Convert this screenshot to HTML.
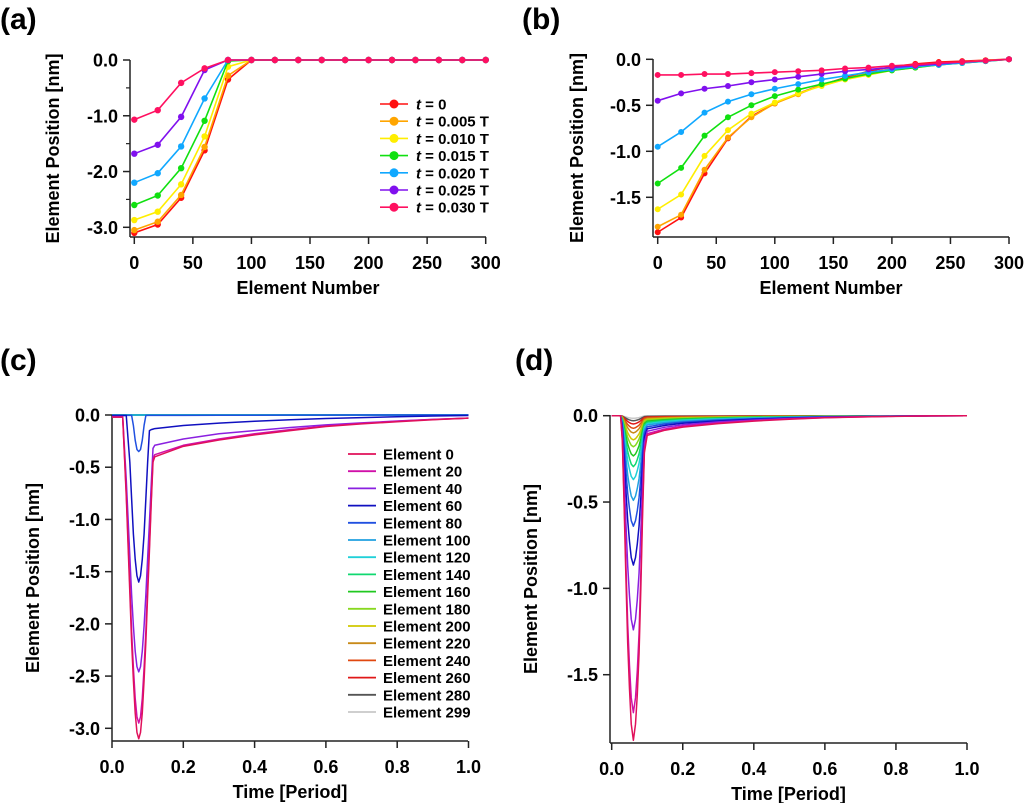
<!DOCTYPE html>
<html><head><meta charset="utf-8"><style>
html,body{margin:0;padding:0;background:#fff;}
svg{display:block;font-family:"Liberation Sans",sans-serif;font-weight:bold;}
</style></head><body>
<svg id="fig" width="1024" height="803" viewBox="0 0 1024 803" xmlns="http://www.w3.org/2000/svg"></svg>
<script>
// ---------- Panel (a) data ----------
const A_ELEMENTS = [0,20,40,60,80,100,120,140,160,180,200,220,240,260,280,300];
const A_LABELS = ["0","0.005 T","0.010 T","0.015 T","0.020 T","0.025 T","0.030 T"];
const A_COLORS = ["#ff1010","#ffa500","#ffee00","#10e010","#10a8ff","#8010ee","#ff1060"];
const A_T0    = [-3.10,-2.95,-2.47,-1.62,-0.35,0,0,0,0,0,0,0,0,0,0,0];
const A_T005  = [-3.05,-2.90,-2.42,-1.56,-0.28,0,0,0,0,0,0,0,0,0,0,0];
const A_T010  = [-2.87,-2.72,-2.23,-1.37,-0.12,0,0,0,0,0,0,0,0,0,0,0];
const A_T015  = [-2.60,-2.43,-1.94,-1.09,-0.02,0,0,0,0,0,0,0,0,0,0,0];
const A_T020  = [-2.20,-2.03,-1.55,-0.69,0,0,0,0,0,0,0,0,0,0,0,0];
const A_T025  = [-1.68,-1.52,-1.02,-0.18,0,0,0,0,0,0,0,0,0,0,0,0];
const A_T030  = [-1.07,-0.90,-0.41,-0.15,0,0,0,0,0,0,0,0,0,0,0,0];
const A_SERIES = [A_T0,A_T005,A_T010,A_T015,A_T020,A_T025,A_T030];
const A_XTICKS = [0,50,100,150,200,250,300];
const A_YTICKS = [0,-1,-2,-3];
const A_YTICK_LABELS = ["0.0","-1.0","-2.0","-3.0"];

// ---------- Panel (b) data ----------
const B_T0   = [-1.88,-1.72,-1.24,-0.86,-0.62,-0.48,-0.37,-0.28,-0.20,-0.13,-0.08,-0.05,-0.03,-0.02,-0.01,0];
const B_T005 = [-1.82,-1.69,-1.20,-0.85,-0.63,-0.48,-0.38,-0.28,-0.21,-0.15,-0.10,-0.07,-0.05,-0.03,-0.01,0];
const B_T010 = [-1.63,-1.47,-1.05,-0.77,-0.59,-0.47,-0.37,-0.29,-0.22,-0.17,-0.12,-0.09,-0.06,-0.04,-0.02,0];
const B_T015 = [-1.35,-1.18,-0.83,-0.63,-0.50,-0.40,-0.33,-0.27,-0.21,-0.16,-0.12,-0.09,-0.06,-0.04,-0.02,0];
const B_T020 = [-0.95,-0.79,-0.58,-0.46,-0.38,-0.32,-0.27,-0.22,-0.18,-0.14,-0.11,-0.08,-0.06,-0.04,-0.02,0];
const B_T025 = [-0.45,-0.37,-0.32,-0.29,-0.25,-0.22,-0.19,-0.16,-0.13,-0.11,-0.09,-0.07,-0.05,-0.03,-0.015,0];
const B_T030 = [-0.17,-0.17,-0.16,-0.16,-0.15,-0.14,-0.13,-0.12,-0.10,-0.09,-0.07,-0.06,-0.04,-0.03,-0.015,0];
const B_SERIES = [B_T0,B_T005,B_T010,B_T015,B_T020,B_T025,B_T030];
const B_YTICKS = [0,-0.5,-1,-1.5];
const B_YTICK_LABELS = ["0.0","-0.5","-1.0","-1.5"];

// ---------- Panel (c) data ----------
const C_NAMES = ["Element 0","Element 20","Element 40","Element 60","Element 80","Element 100","Element 120","Element 140","Element 160","Element 180","Element 200","Element 220","Element 240","Element 260","Element 280","Element 299"];
const C_COLORS = ["#e0105a","#d010a8","#8a20e0","#1010c0","#2050e0","#20a0e0","#20d0d8","#10d870","#20c820","#88d820","#d0c800","#c88a18","#e04810","#e01818","#555555","#c8c8c8"];
const C_T = [0,0.03,0.04,0.05,0.055,0.06,0.065,0.07,0.075,0.08,0.085,0.09,0.095,0.1,0.105,0.11,0.115,0.12,0.2,0.3,0.4,0.5,0.6,0.7,0.8,0.9,1.0];
const C_E0  = [-0.02,-0.02,-0.78,-1.70,-2.17,-2.54,-2.85,-3.04,-3.10,-3.04,-2.85,-2.54,-2.17,-1.72,-1.30,-0.85,-0.45,-0.40,-0.30,-0.24,-0.19,-0.15,-0.11,-0.085,-0.065,-0.045,-0.03];
const C_E20 = [-0.02,-0.02,-0.74,-1.62,-2.07,-2.42,-2.71,-2.89,-2.95,-2.89,-2.71,-2.42,-2.07,-1.64,-1.24,-0.81,-0.42,-0.38,-0.29,-0.23,-0.18,-0.14,-0.105,-0.08,-0.06,-0.043,-0.03];
const C_E40 = [-0.015,-0.015,-0.62,-1.35,-1.72,-2.02,-2.26,-2.41,-2.46,-2.41,-2.26,-2.02,-1.72,-1.37,-1.03,-0.67,-0.32,-0.29,-0.23,-0.18,-0.15,-0.12,-0.095,-0.075,-0.058,-0.042,-0.03];
const C_E60 = [-0.005,-0.005,-0.005,-0.45,-0.80,-1.14,-1.38,-1.54,-1.60,-1.54,-1.38,-1.14,-0.80,-0.45,-0.15,-0.14,-0.135,-0.13,-0.10,-0.078,-0.06,-0.045,-0.034,-0.025,-0.017,-0.01,-0.005];
const C_E80 = [-0.003,-0.003,-0.003,-0.003,-0.003,-0.10,-0.24,-0.33,-0.35,-0.33,-0.24,-0.10,-0.005,-0.004,-0.004,-0.004,-0.004,-0.004,-0.003,-0.002,-0.002,-0.001,-0.001,0,0,0,0];
const C_FLAT = [0,0,0,0,0,0,0,0,0,0,0,0,0,0,0,0,0,0,0,0,0,0,0,0,0,0,0];
const C_SERIES = [C_E0,C_E20,C_E40,C_E60,C_E80,C_FLAT,C_FLAT,C_FLAT,C_FLAT,C_FLAT,C_FLAT,C_FLAT,C_FLAT,C_FLAT,C_FLAT,C_FLAT];
const C_XTICKS = [0,0.2,0.4,0.6,0.8,1.0];
const C_XTICK_LABELS = ["0.0","0.2","0.4","0.6","0.8","1.0"];
const C_YTICKS = [0,-0.5,-1,-1.5,-2,-2.5,-3];
const C_YTICK_LABELS = ["0.0","-0.5","-1.0","-1.5","-2.0","-2.5","-3.0"];

// ---------- Panel (d) data ----------
const D_T = [0,0.025,0.03,0.035,0.04,0.045,0.05,0.055,0.061,0.067,0.072,0.077,0.082,0.087,0.092,0.1,0.15,0.2,0.3,0.4,0.5,0.6,0.7,0.8,0.9,1.0];
const D_DIP_SHAPE  = [0,0,0.08,0.28,0.5,0.7,0.84,0.95,1,0.95,0.86,0.72,0.5,0.25,0.05,0,0,0,0,0,0,0,0,0,0,0];
const D_TAIL_SHAPE = [0,0,0,0,0,0,0,0,0,0,0,0.2,0.5,0.8,1,0.95,0.7,0.55,0.38,0.26,0.17,0.1,0.06,0.03,0.01,0];
const D_MIN  = [-1.88,-1.72,-1.24,-0.865,-0.64,-0.49,-0.37,-0.295,-0.233,-0.18,-0.14,-0.10,-0.073,-0.048,-0.029,-0.015];
const D_TAIL = [-0.12,-0.11,-0.095,-0.08,-0.068,-0.057,-0.048,-0.04,-0.033,-0.027,-0.022,-0.017,-0.012,-0.008,-0.004,-0.001];

const svg = document.getElementById('fig');
const NS = 'http://www.w3.org/2000/svg';
function mk(tag, attrs, parent){
  const e = document.createElementNS(NS, tag);
  for (const k in attrs) e.setAttribute(k, attrs[k]);
  (parent||svg).appendChild(e);
  return e;
}
function txt(str, attrs, parent){
  const e = mk('text', attrs, parent);
  e.textContent = str;
  return e;
}
function scale(d0,d1,r0,r1){ return v => r0 + (v-d0)*(r1-r0)/(d1-d0); }

function axes(g, o){
  const ax = mk('g', {}, g);
  
  
  const yl = mk('line', {x1:o.x0, y1:o.yTop, x2:o.x0, y2:o.yBot, stroke:'#222', 'stroke-width':1.5}, ax);
  
  
  const xl = mk('line', {x1:o.x0, y1:o.yBot, x2:o.xRight, y2:o.yBot, stroke:'#222', 'stroke-width':1.5}, ax);
  
  
  o.xticks.forEach((v,i)=>{
    const x = o.xs(v);
    mk('line', {x1:x, y1:o.yBot, x2:x, y2:o.yBot+7, stroke:'#222', 'stroke-width':1.5}, ax);
    const t = txt(o.xlabels[i], {x:x, y:o.yBot+32, 'text-anchor':'middle', 'font-size':18}, ax);
    
    
  });
  o.yticks.forEach((v,i)=>{
    const y = o.ys(v);
    mk('line', {x1:o.x0-7, y1:y, x2:o.x0, y2:y, stroke:'#222', 'stroke-width':1.5}, ax);
    const t = txt(o.ylabels[i], {x:o.x0-12, y:y+6.5, 'text-anchor':'end', 'font-size':18}, ax);
    
    
  });
  (o.minor||[]).forEach(v=>{
    const y = o.ys(v);
    mk('line', {x1:o.x0-4, y1:y, x2:o.x0, y2:y, stroke:'#222', 'stroke-width':1.2}, ax);
  });
  const xt = txt(o.xtitle, {x:(o.x0+o.xRight)/2, y:o.yBot+57, 'text-anchor':'middle', 'font-size':18}, ax);
  
  
  const yt = txt('Element Position [nm]', {x:0, y:0, 'text-anchor':'middle', 'font-size':18, transform:`translate(${o.ytx},${(o.yTop+o.yBot)/2}) rotate(-90)`}, ax);
  
  
}

function panelLabel(s, x, y){
  const t = txt(s, {x:x, y:y, 'font-size':30});
  
  
}

// ===== Panel (a) =====
panelLabel('(a)', 0, 29);
const gA = mk('g', {});


const axs = scale(0,300,134.3,485.7), ays = scale(0,-3,60,227.3);
axes(gA, {x0:130, yTop:60, yBot:237, xRight:486, xs:axs, ys:ays, xticks:A_XTICKS, xlabels:A_XTICKS.map(String), yticks:A_YTICKS, ylabels:A_YTICK_LABELS, minor:[-0.5,-1.5,-2.5], xtitle:'Element Number', ytx:59});
A_SERIES.forEach((s,si)=>{
  const g = mk('g', {}, gA);
  
  
  const pl = mk('polyline', {points:s.map((v,i)=>axs(A_ELEMENTS[i])+','+ays(v)).join(' '), fill:'none', stroke:A_COLORS[si], 'stroke-width':1.6}, g);
  
  
  s.forEach((v,i)=>{
    const c = mk('circle', {cx:axs(A_ELEMENTS[i]), cy:ays(v), r:3.2, fill:A_COLORS[si]}, g);
    
    
  });
});
const legA = mk('g', {}, gA);


A_LABELS.forEach((lab,i)=>{
  const y = 104 + i*17.2;
  const g = mk('g', {}, legA);
  
  
  mk('line', {x1:380, y1:y, x2:408, y2:y, stroke:A_COLORS[i], 'stroke-width':1.6}, g);
  mk('circle', {cx:394, cy:y, r:4.5, fill:A_COLORS[i]}, g);
  const t = mk('text', {x:416, y:y+5.5, 'font-size':15}, g);
  const it = mk('tspan', {'font-style':'italic'}, t); it.textContent = 't';
  const rest = mk('tspan', {}, t); rest.textContent = ' = ' + lab;
});

// ===== Panel (b) =====
panelLabel('(b)', 522, 29);
const gB = mk('g', {});


const bxs = scale(0,300,657.7,1009), bys = scale(0,-1.5,59.3,197.3);
axes(gB, {x0:653, yTop:59, yBot:237, xRight:1009, xs:bxs, ys:bys, xticks:A_XTICKS, xlabels:A_XTICKS.map(String), yticks:B_YTICKS, ylabels:B_YTICK_LABELS, xtitle:'Element Number', ytx:583});
B_SERIES.forEach((s,si)=>{
  const g = mk('g', {}, gB);
  
  
  const pl = mk('polyline', {points:s.map((v,i)=>bxs(A_ELEMENTS[i])+','+bys(v)).join(' '), fill:'none', stroke:A_COLORS[si], 'stroke-width':1.6}, g);
  
  
  s.forEach((v,i)=>{
    const c = mk('circle', {cx:bxs(A_ELEMENTS[i]), cy:bys(v), r:3, fill:A_COLORS[si]}, g);
    
    
  });
});

// ===== Panel (c) =====
panelLabel('(c)', 0, 370);
const gC = mk('g', {});


const cxs = scale(0,1,112,468.5), cys = scale(0,-3,415,728.3);
axes(gC, {x0:112, yTop:415, yBot:741, xRight:468, xs:cxs, ys:cys, xticks:C_XTICKS, xlabels:C_XTICK_LABELS, yticks:C_YTICKS, ylabels:C_YTICK_LABELS, xtitle:'Time [Period]', ytx:39});
for (let si=C_SERIES.length-1; si>=0; si--){
  const s = C_SERIES[si];
  const pl = mk('polyline', {points:s.map((v,i)=>cxs(C_T[i])+','+cys(v)).join(' '), fill:'none', stroke:C_COLORS[si], 'stroke-width':1.5, 'stroke-linejoin':'round'}, gC);
  
  
}
const legC = mk('g', {}, gC);


C_NAMES.forEach((n,i)=>{
  const y = 454 + i*17.2;
  const g = mk('g', {}, legC);
  
  
  mk('line', {x1:348, y1:y, x2:376, y2:y, stroke:C_COLORS[i], 'stroke-width':1.8}, g);
  txt(n, {x:383, y:y+5.5, 'font-size':15}, g);
});

// ===== Panel (d) =====
panelLabel('(d)', 515, 370);
const gD = mk('g', {});


const dxs = scale(0,1,611.7,967), dys = scale(0,-1.5,415.7,674.7);
axes(gD, {x0:610, yTop:415, yBot:743, xRight:967, xs:dxs, ys:dys, xticks:C_XTICKS, xlabels:C_XTICK_LABELS, yticks:B_YTICKS, ylabels:B_YTICK_LABELS, xtitle:'Time [Period]', ytx:537});
for (let si=D_MIN.length-1; si>=0; si--){
  const pts = D_T.map((t,i)=>dxs(t)+','+dys(D_MIN[si]*D_DIP_SHAPE[i] + D_TAIL[si]*D_TAIL_SHAPE[i])).join(' ');
  const pl = mk('polyline', {points:pts, fill:'none', stroke:C_COLORS[si], 'stroke-width':1.5, 'stroke-linejoin':'round'}, gD);
  
  
}
</script>
</body></html>
